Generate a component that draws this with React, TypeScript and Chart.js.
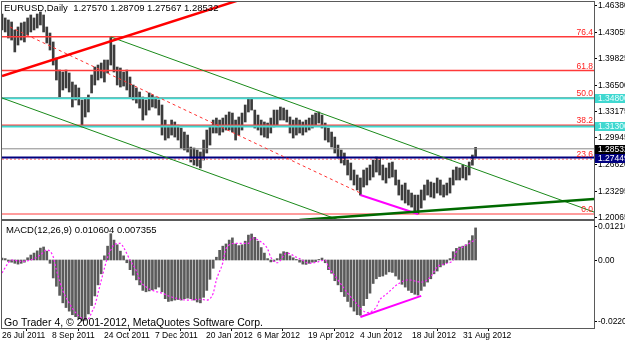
import React, { useEffect, useRef } from "react";
import { Chart, registerables } from "chart.js";

Chart.register(...registerables);

const FONT = "'Liberation Sans Narrow', 'Liberation Sans', Arial, sans-serif";

// ---------------- data (one entry per 2-day bar) ----------------
const highs = [
  1.4526, 1.4477, 1.4452, 1.4427, 1.4328, 1.4365, 1.4415, 1.4427, 1.4477, 1.4514,
  1.4477, 1.4526, 1.4551, 1.4514, 1.4365, 1.4290, 1.4179, 1.3980, 1.3831, 1.3806,
  1.3831, 1.3794, 1.3682, 1.3645, 1.3608, 1.3459, 1.3484, 1.3521, 1.3769, 1.3868,
  1.3893, 1.3918, 1.3955, 1.3955, 1.4241, 1.4141, 1.3868, 1.3856, 1.3806, 1.3831,
  1.3744, 1.3645, 1.3608, 1.3558, 1.3496, 1.3459, 1.3546, 1.3521, 1.3496, 1.3459,
  1.3397, 1.3210, 1.3148, 1.3210, 1.3186, 1.3148, 1.3111, 1.3061, 1.3024, 1.2875,
  1.2863, 1.2838, 1.2813, 1.2962, 1.3086, 1.3124, 1.3210, 1.3235, 1.3210, 1.3235,
  1.3272, 1.3310, 1.3297, 1.3210, 1.3248, 1.3297, 1.3397, 1.3484, 1.3484, 1.3334,
  1.3272, 1.3210, 1.3186, 1.3173, 1.3235, 1.3334, 1.3334, 1.3372, 1.3359, 1.3334,
  1.3248, 1.3210, 1.3235, 1.3210, 1.3186, 1.3210, 1.3235, 1.3272, 1.3297, 1.3310,
  1.3272, 1.3173, 1.3111, 1.3061, 1.2999, 1.2900, 1.2838, 1.2801, 1.2714, 1.2677,
  1.2590, 1.2528, 1.2491, 1.2590, 1.2615, 1.2652, 1.2714, 1.2751, 1.2739, 1.2652,
  1.2615, 1.2677, 1.2689, 1.2590, 1.2466, 1.2404, 1.2428, 1.2342, 1.2304, 1.2279,
  1.2279, 1.2342, 1.2404, 1.2466, 1.2441, 1.2428, 1.2491, 1.2466, 1.2404, 1.2428,
  1.2491, 1.2590, 1.2627, 1.2615, 1.2652, 1.2627, 1.2689, 1.2776, 1.2871,
];
const lows = [
  1.4328, 1.4303, 1.4228, 1.4203, 1.4055, 1.4141, 1.4203, 1.4179, 1.4266, 1.4303,
  1.4328, 1.4352, 1.4390, 1.4303, 1.4166, 1.4079, 1.3893, 1.3707, 1.3496, 1.3583,
  1.3608, 1.3558, 1.3372, 1.3459, 1.3397, 1.3124, 1.3248, 1.3310, 1.3546, 1.3645,
  1.3707, 1.3732, 1.3682, 1.3794, 1.3893, 1.3806, 1.3645, 1.3620, 1.3632, 1.3583,
  1.3496, 1.3459, 1.3421, 1.3359, 1.3210, 1.3272, 1.3334, 1.3372, 1.3359, 1.3272,
  1.3024, 1.2962, 1.2987, 1.3024, 1.2999, 1.2962, 1.2863, 1.2838, 1.2813, 1.2689,
  1.2652, 1.2639, 1.2615, 1.2714, 1.2801, 1.2900, 1.3049, 1.3049, 1.3024, 1.3061,
  1.3086, 1.3086, 1.3061, 1.2962, 1.3024, 1.3086, 1.3186, 1.3310, 1.3334, 1.3111,
  1.3086, 1.3024, 1.2999, 1.2987, 1.3049, 1.3124, 1.3148, 1.3210, 1.3210, 1.3186,
  1.3049, 1.2987, 1.3024, 1.3049, 1.3024, 1.3061, 1.3086, 1.3111, 1.3148, 1.3173,
  1.3111, 1.2962, 1.2937, 1.2875, 1.2801, 1.2739, 1.2677, 1.2652, 1.2528, 1.2466,
  1.2404, 1.2342, 1.2279, 1.2379, 1.2404, 1.2466, 1.2503, 1.2565, 1.2528, 1.2466,
  1.2428, 1.2491, 1.2503, 1.2404, 1.2279, 1.2217, 1.2180, 1.2155, 1.2130, 1.2056,
  1.2044, 1.2118, 1.2217, 1.2279, 1.2255, 1.2242, 1.2304, 1.2279, 1.2255, 1.2279,
  1.2304, 1.2404, 1.2466, 1.2466, 1.2491, 1.2466, 1.2528, 1.2650, 1.2757,
];
const macdHist = [
  0.0007, 0.0005, -0.0005, -0.0008, -0.0012, -0.0015, -0.0012, -0.0008, 0.0008, 0.0018,
  0.0025, 0.0033, 0.0043, 0.0047, 0.0032, -0.0012, -0.0065, -0.0095, -0.0128, -0.0155,
  -0.0172, -0.0185, -0.0198, -0.0205, -0.0212, -0.0220, -0.0218, -0.0195, -0.0165, -0.0130,
  -0.0090, -0.0050, 0.0015, 0.0050, 0.0095, 0.0072, 0.0055, 0.0032, 0.0015, -0.0010,
  -0.0035, -0.0055, -0.0072, -0.0090, -0.0110, -0.0115, -0.0112, -0.0108, -0.0105, -0.0098,
  -0.0115, -0.0140, -0.0150, -0.0148, -0.0145, -0.0143, -0.0145, -0.0140, -0.0138, -0.0140,
  -0.0145, -0.0152, -0.0155, -0.0135, -0.0110, -0.0070, -0.0030, 0.0010, 0.0035, 0.0050,
  0.0058, 0.0072, 0.0080, 0.0058, 0.0052, 0.0055, 0.0068, 0.0090, 0.0094, 0.0082,
  0.0068, 0.0045, 0.0025, 0.0005, -0.0007, -0.0005, 0.0005, 0.0022, 0.0030, 0.0028,
  0.0015, 0.0008, 0.0002, -0.0008, -0.0015, -0.0016, -0.0012, -0.0008, -0.0006, 0.0002,
  0.0007, -0.0010, -0.0035, -0.0048, -0.0075, -0.0090, -0.0115, -0.0132, -0.0150, -0.0170,
  -0.0185, -0.0198, -0.0200, -0.0165, -0.0140, -0.0120, -0.0085, -0.0068, -0.0060, -0.0058,
  -0.0052, -0.0043, -0.0045, -0.0058, -0.0070, -0.0088, -0.0098, -0.0110, -0.0118, -0.0124,
  -0.0127, -0.0110, -0.0095, -0.0080, -0.0068, -0.0050, -0.0040, -0.0025, -0.0018, -0.0010,
  0.0005, 0.0030, 0.0042, 0.0047, 0.0050, 0.0055, 0.0070, 0.0088, 0.0116,
];
const signalBars = [
  0, 2, 3, 6, 9, 12, 14, 16, 17, 19, 21, 23, 25, 27, 28, 29, 30, 31, 32, 33,
  34, 35, 37, 38, 40, 42, 43, 45, 47, 50, 53, 58, 62, 64, 66, 67, 69, 70, 73, 77,
  78, 81, 83, 84, 86, 89, 92, 93, 96, 99, 101, 102, 105, 108, 111, 113, 114, 117, 118, 120,
  124, 127, 131, 134, 136, 139, 141, 142, 144, 146, 148,
];
const signalValues = [
  -0.0047, -0.0010, 0.0000, -0.0005, 0.0000, 0.0018, 0.0036, 0.0012, -0.0036, -0.0110,
  -0.0156, -0.0190, -0.0210, -0.0212, -0.0190, -0.0165, -0.0120, -0.0075, -0.0030, 0.0010,
  0.0036, 0.0055, 0.0060, 0.0045, 0.0000, -0.0040, -0.0072, -0.0097, -0.0110, -0.0120,
  -0.0134, -0.0145, -0.0142, -0.0145, -0.0120, -0.0072, -0.0010, 0.0040, 0.0060, 0.0060,
  0.0080, 0.0065, 0.0040, 0.0010, -0.0010, 0.0025, 0.0010, 0.0005, -0.0012, -0.0006,
  0.0000, -0.0025, -0.0072, -0.0120, -0.0160, -0.0185, -0.0190, -0.0170, -0.0145, -0.0125,
  -0.0085, -0.0072, -0.0080, -0.0060, -0.0025, -0.0012, 0.0000, 0.0030, 0.0047, 0.0060,
  0.0074,
];

const priceTicks = [1.4638, 1.43055, 1.39825, 1.365, 1.33175, 1.29945, 1.2662, 1.23295, 1.20065];
const macdTicks = [0.01216, 0, -0.02206];
const dateTickBars = [0, 15.6, 31.9, 47.8, 63.75, 79.7, 95.6, 111.9, 128.1, 144.1];
const dateLabels = [
  "26 Jul 2011", "8 Sep 2011", "24 Oct 2011", "7 Dec 2011", "20 Jan 2012",
  "6 Mar 2012", "19 Apr 2012", "4 Jun 2012", "18 Jul 2012", "31 Aug 2012",
];

const headerText = "EURUSD,Daily  1.27570 1.28709 1.27567 1.28532";
const macdText = "MACD(12,26,9) 0.010604 0.007355";
const copyrightText = "Go Trader 4, \u00a9 2001-2012, MetaQuotes Software Corp.";

const fibLow = 1.2044;
const fibHigh = 1.4925;
const fibLevels = [0, 23.6, 38.2, 50, 61.8, 76.4];
const cyanLevels = [1.348, 1.313];
const bidPrice = 1.28532;
const bluePrice = 1.27449;

const redTrendBars = [0, 75];
const redTrendPrices = [1.3757, 1.471];
const upperChannelBars = [34, 185];
const upperChannelPrices = [1.4241, 1.2068];
const lowerChannelBars = [0, 110];
const lowerChannelPrices = [1.3484, 1.1902];
const midDashBars = [2.5, 112];
const midDashPrices = [1.4365, 1.2304];
const priceDivBars = [112, 130];
const priceDivPrices = [1.2279, 1.2044];
const supportBars = [93, 185];
const supportPrices = [1.1969, 1.223];
const macdDivBars = [112, 131];
const macdDivValues = [-0.0206, -0.013];

const X_MIN = 0;
const X_MAX = 185;
const PRICE_MIN = 1.1982;
const PRICE_MAX = 1.4675;
const MACD_MIN = -0.0246;
const MACD_MAX = 0.0141;

const fibPrice = (l: number) => fibLow + ((fibHigh - fibLow) * l) / 100;

const seg = (xs: number[], ys: number[], color: string, width: number, dash: number[] = [], order = 1) => ({
  type: "line" as const,
  data: xs.map((x, i) => ({ x, y: ys[i] })),
  borderColor: color,
  borderWidth: width,
  borderDash: dash,
  pointRadius: 0,
  fill: false,
  tension: 0,
  order,
});

const frame = (ctx: CanvasRenderingContext2D, a: any) => {
  ctx.strokeStyle = "#5a5a5a";
  ctx.lineWidth = 1;
  ctx.strokeRect(a.left - 0.5, a.top - 0.5, a.right - a.left + 1, a.bottom - a.top + 1);
};

const axisLabels = (ctx: CanvasRenderingContext2D, a: any, scale: any, values: number[], fmt: (v: number) => string) => {
  ctx.font = `8.5px ${FONT}`;
  ctx.fillStyle = "#000";
  ctx.strokeStyle = "#000";
  ctx.textAlign = "left";
  ctx.textBaseline = "middle";
  values.forEach((v) => {
    const py = Math.round(scale.getPixelForValue(v));
    ctx.beginPath();
    ctx.moveTo(a.right + 1, py + 0.5);
    ctx.lineTo(a.right + 3, py + 0.5);
    ctx.stroke();
    ctx.fillText(fmt(v), a.right + 4, py + 0.5);
  });
};

const topDecor = {
  id: "topDecor",
  afterDraw(chart: any) {
    const { ctx, chartArea: a, scales } = chart;
    const y = scales.y;
    ctx.save();
    frame(ctx, a);
    axisLabels(ctx, a, y, priceTicks, (v) => v.toFixed(5));
    ctx.fillStyle = "#000";
    ctx.font = `9.5px ${FONT}`;
    ctx.textAlign = "left";
    ctx.textBaseline = "alphabetic";
    ctx.fillText(headerText, 4, 11);
    ctx.font = `8.5px ${FONT}`;
    ctx.fillStyle = "#ff2020";
    ctx.textAlign = "right";
    fibLevels.forEach((l) => {
      ctx.fillText(l.toFixed(1), a.right - 1, y.getPixelForValue(fibPrice(l)) - 2);
    });
    const boxes = [
      ...cyanLevels.map((v) => ({ v, bg: "#40d8d0", fg: "#e8ffff" })),
      { v: bidPrice, bg: "#000000", fg: "#ffffff" },
      { v: bluePrice, bg: "#000080", fg: "#ffffff" },
    ];
    ctx.textAlign = "left";
    ctx.textBaseline = "middle";
    boxes.forEach((b) => {
      const py = Math.round(y.getPixelForValue(b.v));
      ctx.fillStyle = b.bg;
      ctx.fillRect(a.right + 1, py - 4, 40, 9);
      ctx.fillStyle = b.fg;
      ctx.fillText(b.v.toFixed(5), a.right + 4, py + 0.5);
    });
    ctx.restore();
  },
};

const bottomDecor = {
  id: "bottomDecor",
  afterDraw(chart: any) {
    const { ctx, chartArea: a, scales } = chart;
    ctx.save();
    frame(ctx, a);
    axisLabels(ctx, a, scales.y, macdTicks, (v) => (v === 0 ? "0.00" : v.toFixed(5)));
    ctx.fillStyle = "#000";
    ctx.textAlign = "left";
    ctx.textBaseline = "alphabetic";
    ctx.font = `9.5px ${FONT}`;
    ctx.fillText(macdText, 6, a.top + 12);
    ctx.font = `10.5px ${FONT}`;
    ctx.fillText(copyrightText, 4, a.bottom - 2);
    ctx.restore();
  },
};

const rightAxis = (min: number, max: number) => ({
  type: "linear",
  position: "right",
  min,
  max,
  afterFit: (s: any) => {
    s.width = 31;
  },
  grid: { display: false },
  border: { display: false },
  ticks: { display: false },
});

export default function App() {
  const topRef = useRef<HTMLCanvasElement>(null);
  const botRef = useRef<HTMLCanvasElement>(null);

  useEffect(() => {
    document.body.style.margin = "0";
    const tickFont = { family: FONT, size: 8.5 };

    const priceBars = highs.map((h, i) => ({ x: i, y: [lows[i], h] }));
    const histBars = macdHist.map((v, i) => ({ x: i, y: v }));

    const topChart = new Chart(topRef.current as HTMLCanvasElement, {
      type: "bar",
      data: {
        datasets: [
          seg(redTrendBars, redTrendPrices, "#ff0000", 2.5, [], 1),
          seg(supportBars, supportPrices, "#006a00", 2.5, [], 1),
          seg(priceDivBars, priceDivPrices, "#ff00ff", 2, [], 1),
          seg(upperChannelBars, upperChannelPrices, "#1a8a1a", 1, [], 2),
          seg(lowerChannelBars, lowerChannelPrices, "#1a8a1a", 1, [], 2),
          seg(midDashBars, midDashPrices, "#ff3030", 1, [3, 3], 2),
          seg([X_MIN, X_MAX], [bluePrice, bluePrice], "#000080", 2, [], 3),
          seg([X_MIN, X_MAX], [bidPrice, bidPrice], "#8a8a8a", 1, [], 4),
          ...cyanLevels.map((v) => seg([X_MIN, X_MAX], [v, v], "#40d8d0", 2, [], 4)),
          ...fibLevels.map((l) =>
            seg(
              [X_MIN, X_MAX],
              [fibPrice(l), fibPrice(l)],
              l === 23.6 ? "#ff9a9a" : "#ff3a3a",
              l === 0 ? 1 : 1.5,
              l === 23.6 ? [2, 2] : [],
              5
            )
          ),
          {
            type: "bar" as const,
            data: priceBars as any,
            backgroundColor: "#3c3c3c",
            borderWidth: 0,
            barThickness: 2,
            order: 10,
          },
        ] as any,
      },
      options: {
        responsive: false,
        animation: false,
        events: [],
        layout: { padding: { left: 2, top: 2, right: 0, bottom: 1 } },
        plugins: { legend: { display: false }, tooltip: { enabled: false } },
        scales: {
          x: { type: "linear", display: false, min: X_MIN, max: X_MAX, offset: false },
          y: rightAxis(PRICE_MIN, PRICE_MAX),
        },
      } as any,
      plugins: [topDecor],
    });

    const botChart = new Chart(botRef.current as HTMLCanvasElement, {
      type: "bar",
      data: {
        datasets: [
          seg(macdDivBars, macdDivValues, "#ff00ff", 2, [], 1),
          {
            type: "line" as const,
            data: signalBars.map((b, i) => ({ x: b, y: signalValues[i] })),
            borderColor: "#ff20ff",
            borderWidth: 1.2,
            borderDash: [2, 2],
            pointRadius: 0,
            fill: false,
            cubicInterpolationMode: "monotone",
            order: 2,
          },
          {
            type: "bar" as const,
            data: histBars as any,
            backgroundColor: "#5a5a5a",
            borderWidth: 0,
            barThickness: 2,
            order: 10,
          },
        ] as any,
      },
      options: {
        responsive: false,
        animation: false,
        events: [],
        layout: { padding: { left: 2, top: 1, right: 0, bottom: 0 } },
        plugins: { legend: { display: false }, tooltip: { enabled: false } },
        scales: {
          x: {
            type: "linear",
            min: X_MIN,
            max: X_MAX,
            offset: false,
            afterFit: (s: any) => {
              s.height = 15;
            },
            afterBuildTicks: (s: any) => {
              s.ticks = dateTickBars.map((v) => ({ value: v }));
            },
            grid: { drawOnChartArea: false, tickLength: 3, color: "#000" },
            border: { display: true, color: "#5a5a5a" },
            ticks: {
              font: tickFont,
              color: "#000",
              padding: 0,
              align: "start",
              maxRotation: 0,
              autoSkip: false,
              callback: (v: any) => dateLabels[dateTickBars.indexOf(Number(v))] ?? "",
            },
          },
          y: rightAxis(MACD_MIN, MACD_MAX),
        },
      } as any,
      plugins: [bottomDecor],
    });

    return () => {
      topChart.destroy();
      botChart.destroy();
    };
  }, []);

  return (
    <div style={{ position: "absolute", left: 0, top: 0, width: 625, height: 343, background: "#fff", overflow: "hidden" }}>
      <canvas ref={topRef} width={625} height={220} style={{ position: "absolute", left: 0, top: 0, width: 625, height: 220 }} />
      <canvas ref={botRef} width={625} height={123} style={{ position: "absolute", left: 0, top: 220, width: 625, height: 123 }} />
    </div>
  );
}
